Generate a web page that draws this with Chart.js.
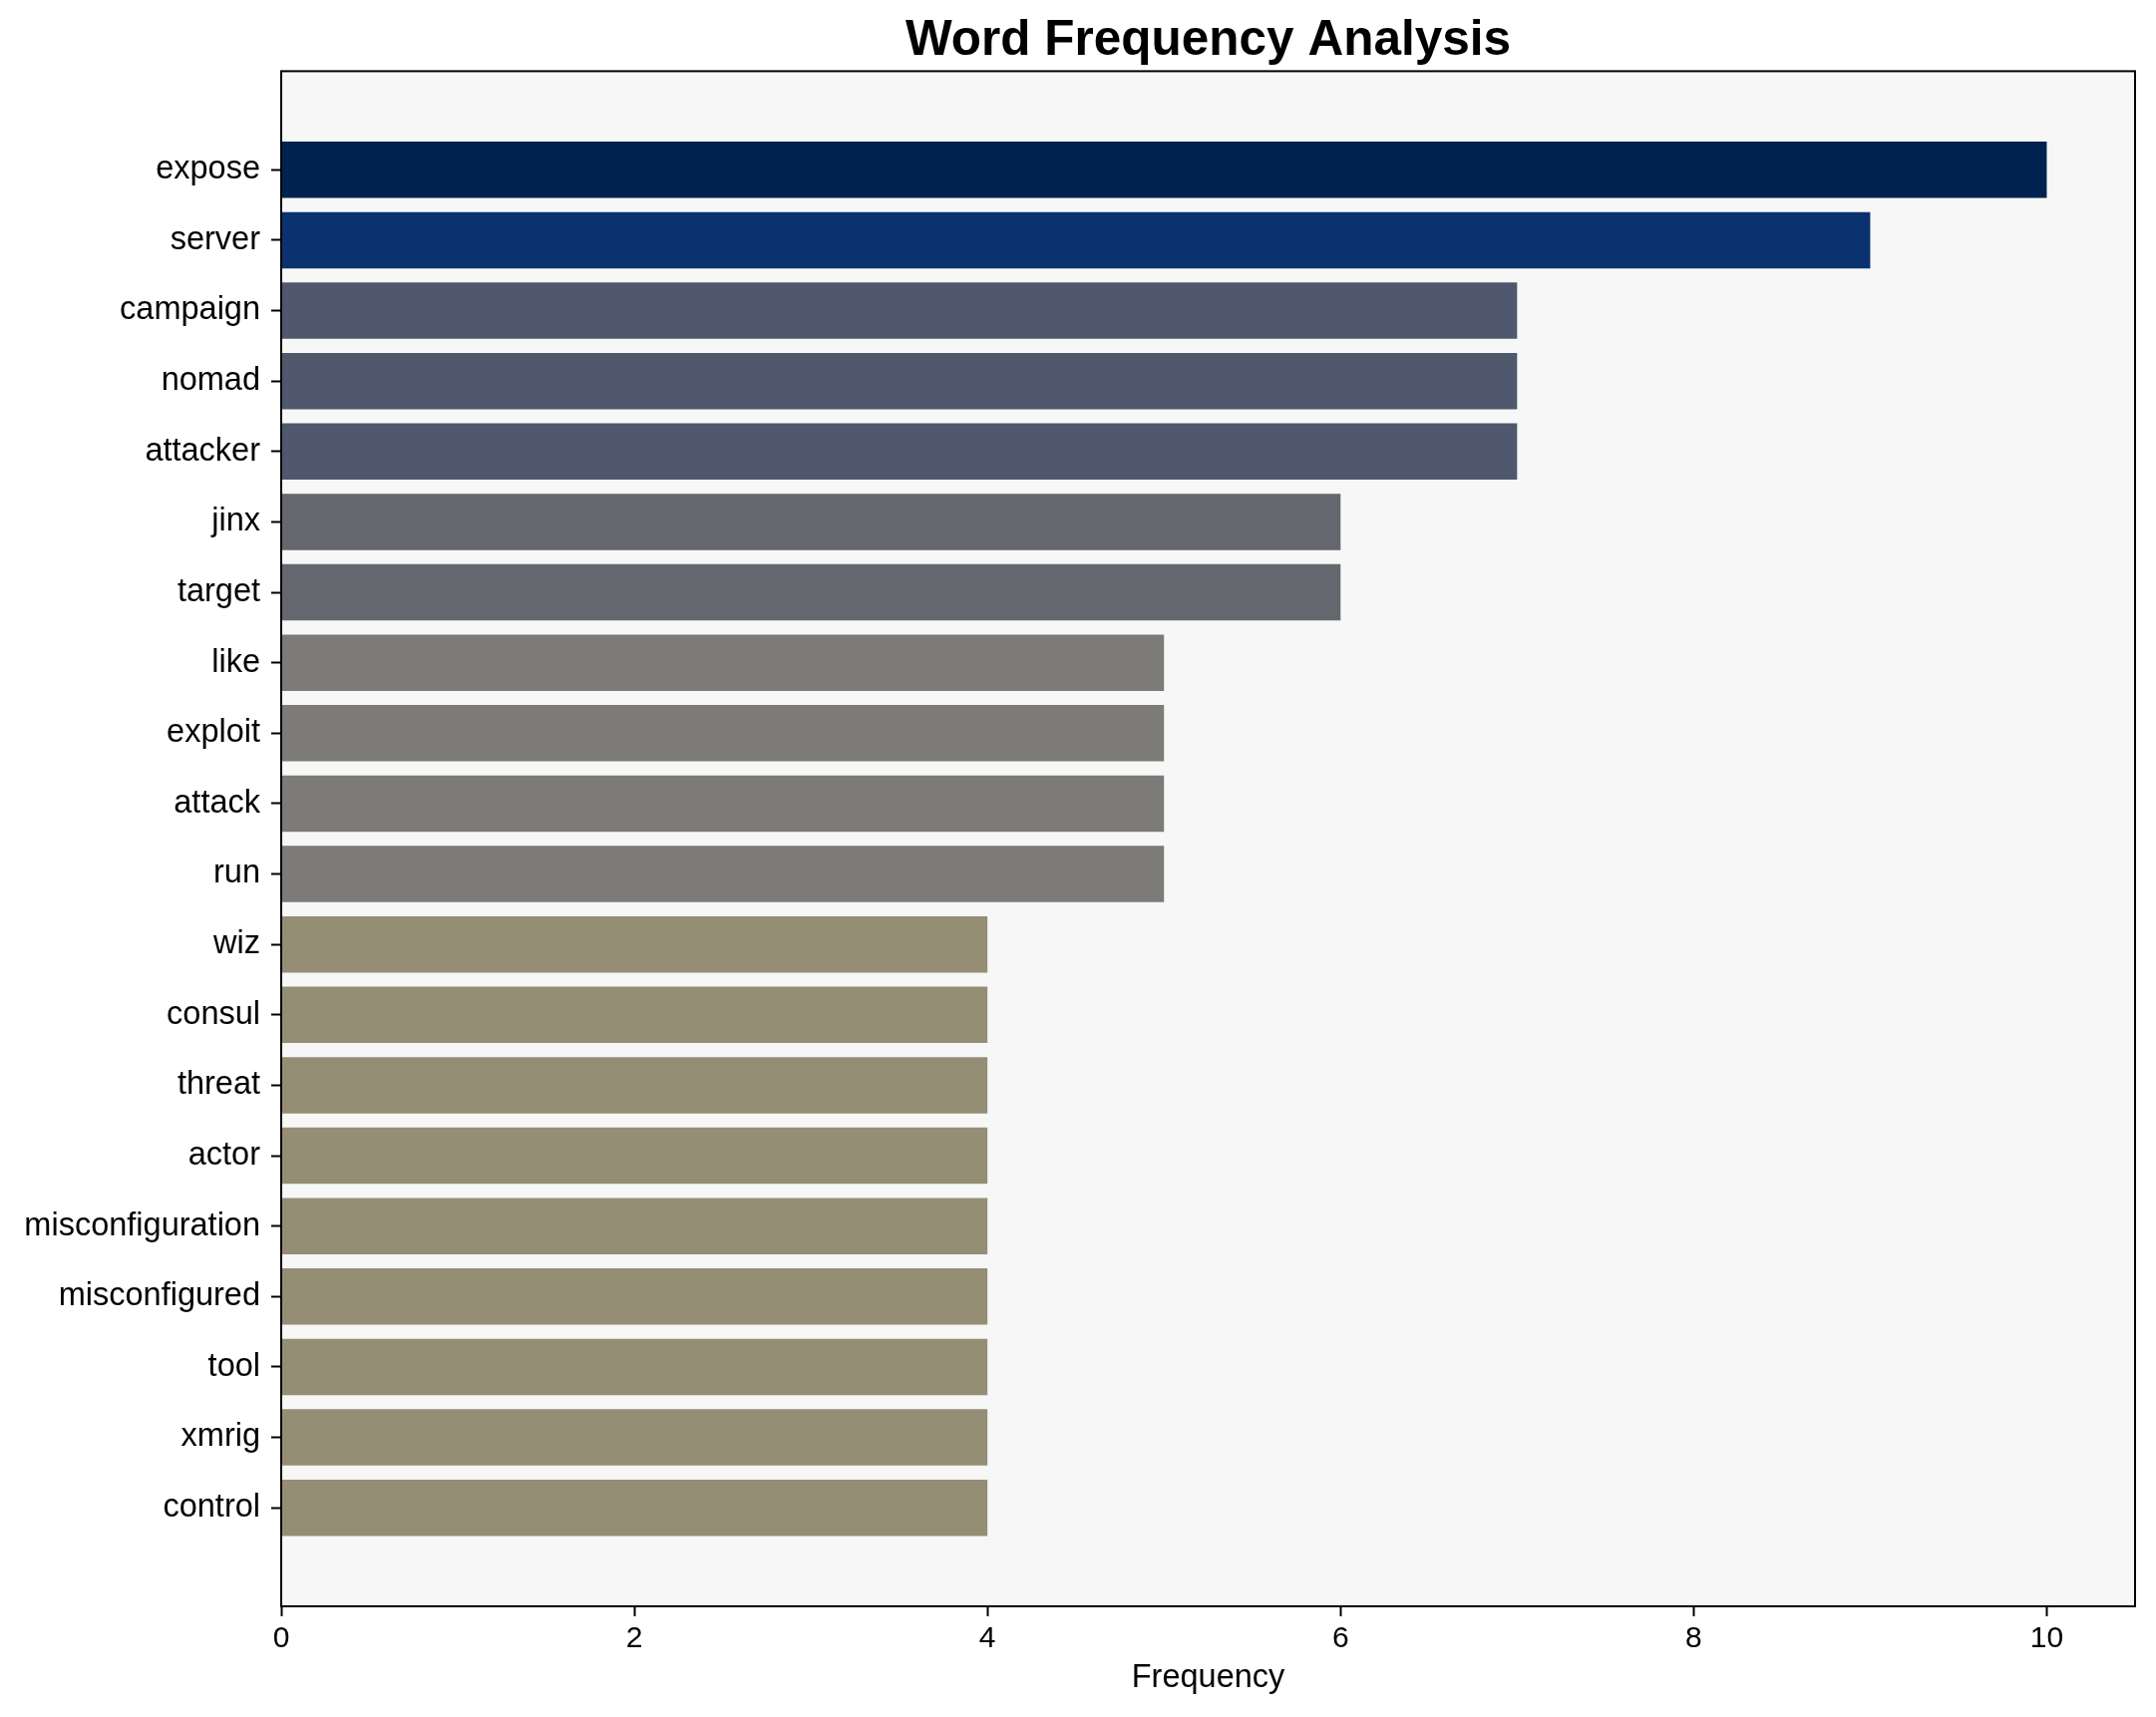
<!DOCTYPE html>
<html>
<head>
<meta charset="utf-8">
<script src="https://cdn.jsdelivr.net/npm/chart.js@4"></script>
<style>
  html, body { margin: 0; padding: 0; background: #ffffff; }
  canvas { display: block; }
</style>
</head>
<body>
<canvas id="chart" width="2162" height="1722"></canvas>
<script>
// ---- data ----
const categories = [
  "expose", "server", "campaign", "nomad", "attacker", "jinx", "target",
  "like", "exploit", "attack", "run", "wiz", "consul", "threat", "actor",
  "misconfiguration", "misconfigured", "tool", "xmrig", "control"
];
const frequencies = [10, 9, 7, 7, 7, 6, 6, 5, 5, 5, 5, 4, 4, 4, 4, 4, 4, 4, 4, 4];
const xTickValues = [0, 2, 4, 6, 8, 10];

// ---- styles ----
const barColors = [
  "#00224e", "#0a326e", "#4f586d", "#4f586d", "#4f586d", "#65676f", "#65676f",
  "#7c7b77", "#7c7b77", "#7c7b77", "#7c7b77", "#958e75", "#958e75", "#958e75",
  "#958e75", "#958e75", "#958e75", "#958e75", "#958e75", "#958e75"
];
const FONT = '"Liberation Sans", Arial, Helvetica, sans-serif';

const plotFrame = {
  id: 'plotFrame',
  beforeDraw(chart) {
    const { ctx, chartArea: a } = chart;
    ctx.save();
    ctx.fillStyle = '#ffffff';
    ctx.fillRect(0, 0, chart.width, chart.height);
    ctx.fillStyle = '#f7f7f7';
    ctx.fillRect(a.left, a.top, a.right - a.left, a.bottom - a.top);
    ctx.restore();
  },
  afterDraw(chart) {
    const { ctx, chartArea: a } = chart;
    ctx.save();
    ctx.strokeStyle = '#000000';
    ctx.lineWidth = 2;
    ctx.strokeRect(a.left, a.top, a.right - a.left, a.bottom - a.top);
    ctx.restore();
  }
};

const tickGrid = {
  display: true,
  offset: false,
  drawOnChartArea: false,
  drawTicks: true,
  tickLength: 10,
  tickWidth: 2,
  tickColor: '#000000'
};

new Chart(document.getElementById('chart'), {
  type: 'bar',
  data: {
    datasets: [{
      data: frequencies.map((v, i) => ({ x: v, y: i })),
      backgroundColor: barColors,
      borderWidth: 0,
      barPercentage: 0.8,
      categoryPercentage: 1.0
    }]
  },
  plugins: [plotFrame],
  options: {
    indexAxis: 'y',
    responsive: false,
    devicePixelRatio: 1,
    animation: false,
    layout: { padding: { left: 0, right: 21, top: 0, bottom: 0 } },
    plugins: {
      legend: { display: false },
      tooltip: { enabled: false },
      title: {
        display: true,
        fullSize: false,
        text: 'Word Frequency Analysis',
        color: '#000000',
        font: { family: FONT, size: 49.5, weight: 'bold', lineHeight: 1.2 },
        padding: { top: 11.5, bottom: 0.5 }
      }
    },
    scales: {
      x: {
        type: 'linear',
        position: 'bottom',
        offset: false,
        min: 0,
        max: 10.5,
        afterBuildTicks: s => { s.ticks = xTickValues.map(v => ({ value: v })); },
        afterFit: s => { s.height = 111; },
        ticks: {
          color: '#000000',
          font: { family: FONT, size: 30 },
          padding: 5,
          maxRotation: 0,
          autoSkip: false
        },
        title: {
          display: true,
          text: 'Frequency',
          color: '#000000',
          font: { family: FONT, size: 32.5, lineHeight: 1.2 },
          padding: { top: 0, bottom: 19 }
        },
        grid: tickGrid,
        border: { display: false }
      },
      y: {
        type: 'linear',
        reverse: true,
        offset: false,
        min: -1.4,
        max: 20.4,
        afterBuildTicks: s => { s.ticks = categories.map((_, i) => ({ value: i })); },
        afterFit: s => { s.width = 282; },
        ticks: {
          color: '#000000',
          font: { family: FONT, size: 32.5 },
          padding: 11,
          autoSkip: false,
          callback: v => categories[v]
        },
        grid: tickGrid,
        border: { display: false }
      }
    }
  }
});
</script>
</body>
</html>
